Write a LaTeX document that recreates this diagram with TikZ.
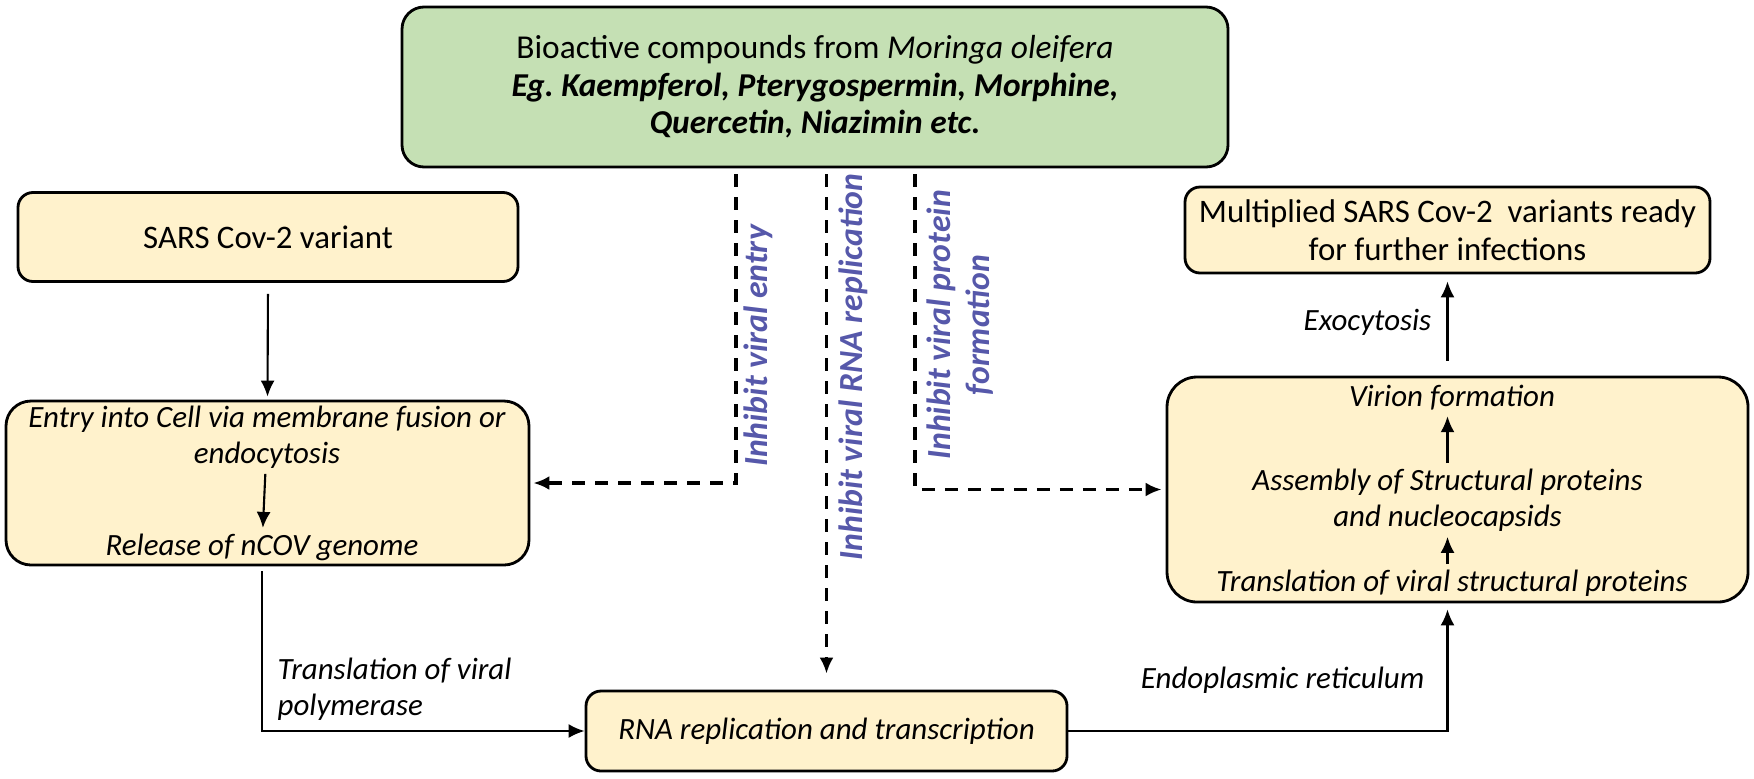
\documentclass[tikz,border=0pt]{standalone}
\usepackage{fontspec}
\setmainfont{Carlito}
\usepackage{xcolor}
\usetikzlibrary{arrows.meta}
\frenchspacing

\definecolor{boxgreen}{HTML}{C5E0B4}
\definecolor{boxyellow}{HTML}{FFF2CC}
\definecolor{inhibitblue}{RGB}{86,88,170}

\begin{document}
\begin{tikzpicture}[x=0.1mm, y=-0.1mm,
    >={Latex[length=1.6mm,width=1.4mm]},
    stage/.style={draw, line width=0.8pt, fill=boxyellow, rounded corners=1.6mm},
    txt/.style={font=\fontsize{8.8}{10.2}\selectfont\itshape, inner sep=0.5mm, align=center},
    flow/.style={->, line width=0.6pt},
    inhibit/.style={->, dash pattern=on 1.3mm off 1mm, line width=0.9pt},
    blocklabel/.style={font=\fontsize{9.6}{11.2}\selectfont\bfseries\itshape, text=inhibitblue, rotate=90, align=center}]

    \useasboundingbox (0,0) rectangle (1754,778);

    % Draw the compound box on top
    \node[stage, fill=boxgreen, rounded corners=2.2mm, minimum width=82.6mm, minimum height=16mm,
          align=center, font=\fontsize{9.5}{10.7}\selectfont] (bioactive) at (815,87)
        {Bioactive compounds from \textit{Moringa oleifera}\\
         \textbf{\textit{Eg. Kaempferol, Pterygospermin, Morphine,}}\\
         \textbf{\textit{Quercetin, Niazimin etc.}}};

    % Draw the left column
    \node[stage, rounded corners=1.5mm, minimum width=50mm, minimum height=8.9mm,
          font=\fontsize{9.35}{10.8}\selectfont] (sars) at (268,237) {SARS Cov-2 variant};
    \node[stage, rounded corners=2.5mm, minimum width=52.3mm, minimum height=16.4mm] (entry) at (267.5,483) {};
    \node[txt] (entrytext) at (267,437) {Entry into Cell via membrane fusion or\\endocytosis};
    \node[txt] (release) at (262,547) {Release of nCOV genome};

    % Draw the bottom box
    \node[stage, rounded corners=1.5mm, minimum width=48.1mm, minimum height=8mm, txt] (rna) at (826.5,731)
        {RNA replication and transcription};

    % Draw the right column
    \node[stage, rounded corners=1.5mm, minimum width=52.5mm, minimum height=8.6mm,
          align=center, font=\fontsize{9.35}{10.8}\selectfont] (multiplied) at (1447.5,230)
        {Multiplied SARS Cov-2~ variants ready\\for further infections};
    \node[stage, rounded corners=3mm, minimum width=58.1mm, minimum height=22.5mm] (assembly) at (1457.5,489.5) {};
    \node[txt] (virion) at (1452,398) {Virion formation};
    \node[txt] (structural) at (1447.5,500) {Assembly of Structural proteins\\and nucleocapsids};
    \node[txt] (translation) at (1452,583) {Translation of viral structural proteins};

    % Labels along the arrows
    \node[txt, anchor=west, align=left] (polylabel) at (272,689) {Translation of viral\\polymerase};
    \node[txt, anchor=east] (erlabel) at (1430,680) {Endoplasmic reticulum};
    \node[txt, anchor=east] (exolabel) at (1437,322) {Exocytosis};

    % Inhibition labels
    \node[blocklabel] (entrylabel) at (758,346) {Inhibit viral entry};
    \node[blocklabel] (rnalabel) at (853,367) {Inhibit viral RNA replication};
    \node[blocklabel] (proteinlabel) at (960,325) {Inhibit viral protein\\formation};

    % Inhibition paths from the compounds
    \coordinate (entrycut) at (736,0);
    \coordinate (proteincut) at (915,0);
    \draw[inhibit, shorten <=0.6mm, shorten >=0.3mm] (bioactive.south -| entrycut) |- (entry.east);
    \draw[inhibit, shorten <=0.6mm, shorten >=1.6mm] (bioactive.south -| rna.north) -- (rna.north);
    \draw[inhibit, shorten <=0.6mm, shorten >=0.4mm] (bioactive.south -| proteincut) |- (assembly.west);

    % Life cycle of the virus
    \draw[flow, shorten <=1.1mm, shorten >=0.3mm] (sars.south) -- (entry.north);
    \draw[flow] (entrytext) -- (release);
    \draw[flow, shorten <=0.5mm] (entry.south -| release) |- (rna.west);
    \draw[flow, shorten >=0.6mm] (rna.east) -| (assembly.south -| multiplied);
    \draw[flow] (translation.north -| multiplied) -- (structural);
    \draw[flow] (structural) -- (virion.south -| multiplied);
    \draw[flow, shorten <=1.5mm, shorten >=0.7mm] (assembly.north -| multiplied) -- (multiplied.south);
\end{tikzpicture}
\end{document}
